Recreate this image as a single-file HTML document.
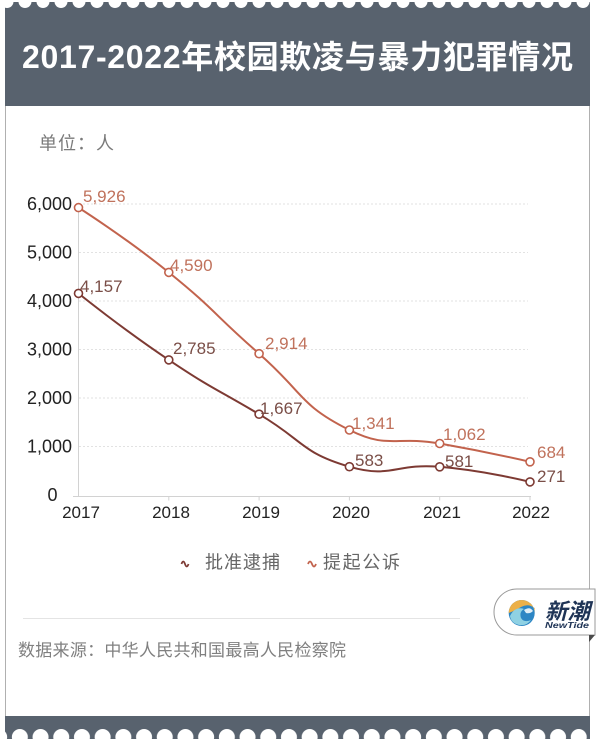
<!DOCTYPE html>
<html>
<head>
<meta charset="utf-8">
<style>
  html,body{margin:0;padding:0;background:#ffffff;}
  body{width:600px;height:739px;overflow:hidden;}
  svg{display:block;}
  .num{font-family:"Liberation Sans",sans-serif;}
  .cjk{font-family:"Liberation Sans","Noto Sans CJK SC",sans-serif;}
</style>
</head>
<body>
<svg width="600" height="739" viewBox="0 0 600 739" xmlns="http://www.w3.org/2000/svg">
  <defs>
    <pattern id="scTop" x="-2" y="0" width="18" height="12" patternUnits="userSpaceOnUse">
      <circle cx="9" cy="1.5" r="6.5" fill="#ffffff"/>
    </pattern>
    <pattern id="scBot" x="9.5" y="0" width="20.7" height="739" patternUnits="userSpaceOnUse">
      <circle cx="10.35" cy="737" r="8" fill="#ffffff"/>
    </pattern>
  </defs>

  <rect x="0" y="0" width="600" height="739" fill="#ffffff"/>

  <line x1="5.5" y1="105" x2="5.5" y2="717" stroke="#b0b0b0" stroke-width="1"/>
  <line x1="589.5" y1="105" x2="589.5" y2="717" stroke="#b0b0b0" stroke-width="1"/>

  <rect x="5" y="2" width="585" height="104" fill="#58626e"/>
  <rect x="5" y="0" width="585" height="10" fill="url(#scTop)"/>
  <text x="22" y="68" class="cjk" font-size="32" font-weight="700" fill="#ffffff" textLength="551">2017-2022年校园欺凌与暴力犯罪情况</text>

  <rect x="5" y="716" width="585" height="23" fill="#58626e"/>
  <rect x="5" y="716" width="585" height="23" fill="url(#scBot)"/>

  <text x="39" y="149.5" class="cjk" font-size="18" fill="#7a7a7a" textLength="75">单位：人</text>

  <g stroke="#e2e2e2" stroke-width="1" stroke-dasharray="2,2">
    <line x1="79" y1="204" x2="528" y2="204"/>
    <line x1="79" y1="252.5" x2="528" y2="252.5"/>
    <line x1="79" y1="301" x2="528" y2="301"/>
    <line x1="79" y1="349.5" x2="528" y2="349.5"/>
    <line x1="79" y1="398" x2="528" y2="398"/>
    <line x1="79" y1="446.5" x2="528" y2="446.5"/>
  </g>

  <line x1="78.5" y1="204" x2="78.5" y2="497" stroke="#d2d2d2" stroke-width="1"/>
  <line x1="73" y1="496.5" x2="531" y2="496.5" stroke="#d2d2d2" stroke-width="1"/>
  <g stroke="#d2d2d2" stroke-width="1">
    <line x1="168.8" y1="496.5" x2="168.8" y2="500.5"/>
    <line x1="259.1" y1="496.5" x2="259.1" y2="500.5"/>
    <line x1="349.4" y1="496.5" x2="349.4" y2="500.5"/>
    <line x1="439.7" y1="496.5" x2="439.7" y2="500.5"/>
    <line x1="530" y1="496.5" x2="530" y2="500.5"/>
  </g>

  <g class="num" font-size="18" fill="#222222" text-anchor="end">
    <text x="72" y="210">6,000</text>
    <text x="72" y="258.5">5,000</text>
    <text x="72" y="307">4,000</text>
    <text x="72" y="355.5">3,000</text>
    <text x="72" y="404">2,000</text>
    <text x="72" y="452.5">1,000</text>
    <text x="57.5" y="501">0</text>
  </g>

  <g class="num" font-size="17" fill="#222222" text-anchor="middle">
    <text x="81" y="518">2017</text>
    <text x="171" y="518">2018</text>
    <text x="261" y="518">2019</text>
    <text x="351" y="518">2020</text>
    <text x="442" y="518">2021</text>
    <text x="531" y="518">2022</text>
  </g>

  <path d="M78.5,207.6 C78.5,207.6 125.6,237.5 168.8,272.4 C215.9,310.5 213.3,313.7 259.1,353.7 C303.6,392.5 298.5,404.7 349.4,430.0 C388.8,449.6 394.7,435.6 439.7,443.5 C485.0,451.5 530,461.8 530,461.8"
        fill="none" stroke="#c2634d" stroke-width="2"/>
  <path d="M78.5,293.4 C78.5,293.4 122.3,328.8 168.8,359.9 C212.6,389.2 213.8,387.4 259.1,414.2 C304.1,440.8 301.0,452.6 349.4,466.7 C391.3,478.9 394.9,463.0 439.7,466.8 C485.2,470.6 530,481.9 530,481.9"
        fill="none" stroke="#7d3a33" stroke-width="2"/>

  <g fill="#ffffff" stroke="#c2634d" stroke-width="1.6">
    <circle cx="78.5" cy="207.6" r="4"/>
    <circle cx="168.8" cy="272.4" r="4"/>
    <circle cx="259.1" cy="353.7" r="4"/>
    <circle cx="349.4" cy="430.0" r="4"/>
    <circle cx="439.7" cy="443.5" r="4"/>
    <circle cx="530" cy="461.8" r="4"/>
  </g>
  <g fill="#ffffff" stroke="#7d3a33" stroke-width="1.6">
    <circle cx="78.5" cy="293.4" r="4"/>
    <circle cx="168.8" cy="359.9" r="4"/>
    <circle cx="259.1" cy="414.2" r="4"/>
    <circle cx="349.4" cy="466.7" r="4"/>
    <circle cx="439.7" cy="466.8" r="4"/>
    <circle cx="530" cy="481.9" r="4"/>
  </g>

  <g class="num" font-size="17" fill="#c0725c">
    <text x="83" y="202">5,926</text>
    <text x="170" y="271">4,590</text>
    <text x="265" y="349">2,914</text>
    <text x="352" y="429">1,341</text>
    <text x="443" y="440">1,062</text>
    <text x="537" y="458">684</text>
  </g>
  <g class="num" font-size="17" fill="#7a4e47">
    <text x="80" y="292">4,157</text>
    <text x="173" y="354">2,785</text>
    <text x="260" y="414">1,667</text>
    <text x="355" y="466">583</text>
    <text x="445" y="467">581</text>
    <text x="537" y="482">271</text>
  </g>

  <path d="M181.5,564 q1.75,-5 3.5,0 t3.5,0" fill="none" stroke="#7d3a33" stroke-width="1.8"/>
  <text x="205" y="568.5" class="cjk" font-size="18" fill="#666666" textLength="75">批准逮捕</text>
  <path d="M308,564 q2,-5 4,0 t4,0" fill="none" stroke="#c2634d" stroke-width="1.8"/>
  <text x="323" y="568.5" class="cjk" font-size="18" fill="#666666" textLength="77">提起公诉</text>

  <line x1="23" y1="618.5" x2="460" y2="618.5" stroke="#e4e4e4" stroke-width="1"/>

  <text x="18" y="656" class="cjk" font-size="17" fill="#808080" textLength="328">数据来源：中华人民共和国最高人民检察院</text>

  <path d="M595,589 L517,589 A23,23 0 0 0 517,635 L595,635 Z" fill="#ffffff" stroke="#9a9a9a" stroke-width="1"/>
  <path d="M589,635 L595,635 L589,642 Z" fill="#4a4a4a"/>
  <g>
    <circle cx="521.7" cy="613" r="13" fill="#2d86c4"/>
    <path d="M508.7,613 A13,13 0 0 1 534.7,613 L534.7,608 Q528,603 521,607 Q514,611 508.7,613 Z" fill="#ecb048"/>
    <path d="M510,616 Q515,606 524,609 Q519,612 521,618 Q524,623 531,620 Q527,626 519,625 Q511,623 510,616 Z" fill="#8fd1e3"/>
    <path d="M524,610 Q530,606 533,611 Q530,614 526,613 Z" fill="#ffffff" opacity="0.85"/>
  </g>
  <text x="545" y="619" class="cjk" font-size="22" font-weight="700" font-style="italic" fill="#1f3456" textLength="45" lengthAdjust="spacingAndGlyphs">新潮</text>
  <text x="545" y="628" class="num" font-size="8" font-weight="700" font-style="italic" fill="#1f3456" textLength="44" lengthAdjust="spacingAndGlyphs">NewTide</text>
</svg>
</body>
</html>
